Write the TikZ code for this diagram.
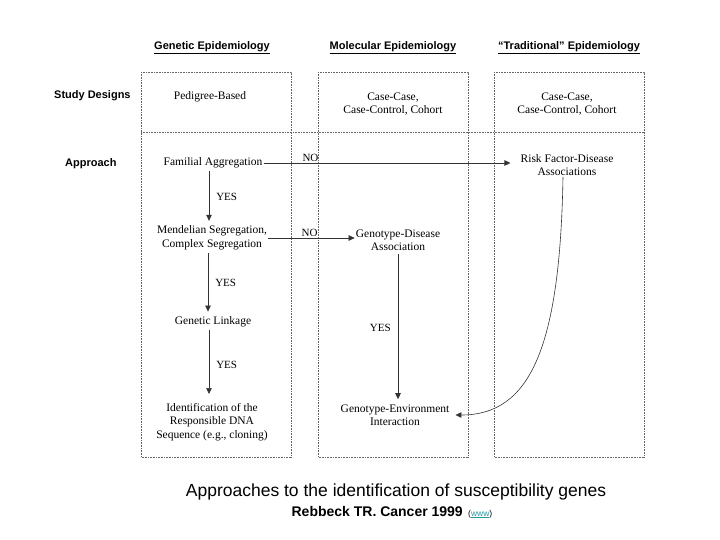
\documentclass[tikz,border=0pt]{standalone}
\usepackage{fontspec}
\setmainfont{Liberation Serif}
\newfontfamily\arialfont{Liberation Sans}
\usetikzlibrary{arrows.meta}
\definecolor{linkteal}{RGB}{40,150,160}

\begin{document}
\begin{tikzpicture}[x=1pt,y=-1pt,
	colbox/.style={draw=black!60,line width=0.5pt,dash pattern=on 1pt off 0.6pt},
	txt/.style={font=\fontsize{11.5}{13.5}\selectfont,align=center,inner sep=1pt},
	head/.style={font=\arialfont\bfseries\fontsize{11}{13}\selectfont,inner sep=1pt},
	flow/.style={draw=black!80,line width=0.6pt,-{Triangle[length=6pt,width=5.5pt]}},
	lab/.style={font=\fontsize{11}{12}\selectfont,inner sep=1pt}]
	\useasboundingbox (0,0) rectangle (720,540);
	\foreach \x in {141,318,494}{
		\draw[colbox] (\x,72) rectangle (\x+150,457);
	}
	\draw[colbox] (141,132) -- (644,132);
	\node[head] (hgen) at (212,48) {\underline{Genetic Epidemiology}};
	\node[head] (hmol) at (393,48) {\underline{Molecular Epidemiology}};
	\node[head] (htra) at (569,48) {\underline{“Traditional” Epidemiology}};
	\node[head,anchor=west] (study) at (53,96) {Study Designs};
	\node[head,anchor=west] (appr) at (64,164) {Approach};
	\node[txt] (ped) at (210,97) {Pedigree-Based};
	\node[txt] (ccmol) at (393,104) {Case-Case,\\Case-Control, Cohort};
	\node[txt] (cctra) at (567,104) {Case-Case,\\Case-Control, Cohort};
	\node[txt] (fam) at (213,163) {Familial Aggregation};
	\node[txt] (risk) at (567,165) {Risk Factor-Disease\\Associations};
	\node[txt] (mend) at (212,238) {Mendelian Segregation,\\Complex Segregation};
	\node[txt] (gdis) at (398,240) {Genotype-Disease\\Association};
	\node[txt] (link) at (213,322) {Genetic Linkage};
	\node[txt] (ident) at (212,422) {Identification of the\\Responsible DNA\\Sequence (e.g., cloning)};
	\node[txt] (genv) at (395,415) {Genotype-Environment\\Interaction};
	\draw[flow] (fam.east) -- node[lab,above,pos=0.19] {NO} ([xshift=-9pt]fam.east -| risk.west);
	\draw[flow] (mend.east) -- node[lab,above,pos=0.48] {NO} (mend.east -| gdis.west);
	\draw[flow,shorten <=2pt,shorten >=4pt] ([xshift=-4pt]fam.south) -- node[lab,right,xshift=6pt] {YES} ([xshift=-4pt]fam.south |- mend.north);
	\draw[flow,shorten <=2pt,shorten >=4pt] ([xshift=-4pt]mend.south) -- node[lab,right,xshift=6pt] {YES} ([xshift=-4pt]mend.south |- link.north);
	\draw[flow,shorten <=2pt,shorten >=8pt] ([xshift=-4pt]link.south) -- node[lab,right,xshift=6pt] {YES} ([xshift=-4pt]link.south |- ident.north);
	\draw[flow,shorten <=2pt,shorten >=4pt] (gdis.south) -- node[lab,left,xshift=-6pt] {YES} (gdis.south |- genv.north);
	\draw[flow] ([xshift=-4pt]risk.south) .. controls +(-3,170) and +(75,0) .. ([xshift=5pt]genv.east);
	\node[font=\arialfont\fontsize{17.5}{20}\selectfont] (capt) at (396,492) {Approaches to the identification of susceptibility genes};
	\node[font=\arialfont\bfseries\fontsize{14}{16}\selectfont,anchor=east,inner sep=1pt] (cite) at (464,511) {Rebbeck TR. Cancer 1999};
	\node[font=\arialfont\fontsize{8.5}{10}\selectfont,anchor=base west,inner sep=1pt] (www) at ([xshift=3pt]cite.base east) {(\textcolor{linkteal}{\underline{www}})};
\end{tikzpicture}
\end{document}
